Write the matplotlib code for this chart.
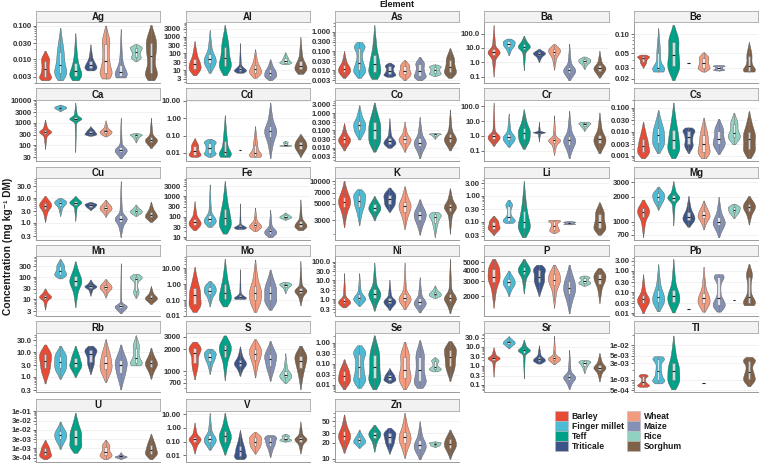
import math
import numpy as np
import matplotlib
matplotlib.use("Agg")
import matplotlib.pyplot as plt
from matplotlib.patches import Patch
from matplotlib.ticker import NullFormatter, LogLocator

# ---- data: per element, per cereal [min, q1, median, q3, max] (None = not measured)
cereals = ["Barley", "Finger millet", "Teff", "Triticale",
           "Wheat", "Maize", "Rice", "Sorghum"]
colors = ["#E64B35", "#4DBBD5", "#00A087", "#3C5488",
          "#F39B7F", "#8491B4", "#91D1C2", "#7E6148"]

Ag = [[0.0024, 0.003, 0.005, 0.009, 0.018], [0.0024, 0.004, 0.007, 0.016, 0.085],
      [0.0024, 0.0033, 0.0045, 0.008, 0.06], [0.0047, 0.0055, 0.0068, 0.009, 0.028],
      [0.0027, 0.004, 0.009, 0.028, 0.10], [0.0029, 0.0033, 0.0042, 0.007, 0.08],
      [0.0088, 0.012, 0.017, 0.022, 0.028], [0.0024, 0.004, 0.013, 0.03, 0.105]]
Al = [[5, 12, 22, 45, 550], [7, 25, 45, 90, 2500], [5, 18, 50, 250, 5000],
      [7, 9, 11, 16, 420], [3.5, 7, 11, 20, 180], [2.5, 4.5, 7, 11, 45],
      [23, 28, 34, 50, 115], [6, 11, 18, 35, 950]]
As = [[0.004, 0.008, 0.012, 0.018, 0.1], [0.004, 0.01, 0.025, 0.15, 0.3],
      [0.0035, 0.008, 0.02, 0.06, 2.3], [0.0045, 0.006, 0.009, 0.016, 0.025],
      [0.003, 0.006, 0.009, 0.016, 0.034], [0.003, 0.005, 0.009, 0.02, 0.05],
      [0.005, 0.007, 0.01, 0.015, 0.02], [0.004, 0.008, 0.015, 0.035, 0.14]]
Ba = [[0.1, 3, 5, 8, 400], [3, 12, 18, 28, 45], [0.27, 8, 12, 18, 70],
      [1, 3, 4, 5, 8.5], [0.3, 3, 5.5, 8, 18], [0.055, 0.18, 0.3, 0.5, 20],
      [0.33, 0.9, 1.2, 1.6, 2.5], [0.085, 0.25, 0.4, 0.6, 6.3]]
Be = [[0.03, 0.037, 0.042, 0.045, 0.048], [0.026, 0.028, 0.03, 0.05, 0.125],
      [0.019, 0.032, 0.047, 0.075, 0.14], [0.036],
      [0.026, 0.03, 0.035, 0.042, 0.052], [0.027, 0.028, 0.03, 0.032, 0.033],
      None, [0.026, 0.027, 0.032, 0.045, 0.075]]
Ca = [[70, 330, 400, 480, 1400], [3300, 4300, 4800, 5300, 6500],
      [50, 1300, 1550, 1800, 8000], [270, 320, 370, 450, 700],
      [250, 350, 420, 500, 1300], [27, 50, 65, 85, 1700],
      [135, 230, 280, 310, 350], [76, 140, 180, 230, 1700]]
Cd = [[0.006, 0.008, 0.013, 0.025, 0.07], [0.006, 0.01, 0.02, 0.04, 0.065],
      [0.006, 0.008, 0.012, 0.05, 1.5], [0.015],
      [0.006, 0.007, 0.01, 0.03, 0.35], [0.005, 0.08, 0.18, 0.35, 8],
      [0.025, 0.027, 0.028, 0.04, 0.05], [0.006, 0.018, 0.028, 0.045, 0.12]]
Co = [[0.007, 0.02, 0.03, 0.045, 0.26], [0.03, 0.1, 0.2, 0.35, 2.8],
      [0.006, 0.03, 0.1, 0.3, 4], [0.01, 0.017, 0.023, 0.035, 0.5],
      [0.006, 0.02, 0.03, 0.045, 0.32], [0.0025, 0.012, 0.02, 0.035, 0.6],
      [0.034, 0.05, 0.06, 0.065, 0.072], [0.007, 0.022, 0.035, 0.06, 1.6]]
Cr = [[0.21, 0.6, 0.9, 1.4, 180], [0.18, 0.5, 0.8, 1.3, 33],
      [0.13, 0.6, 1.6, 3.5, 63], [0.4, 1.6, 1.75, 1.9, 9],
      [0.05, 0.35, 0.5, 0.7, 25], [0.03, 0.25, 0.5, 1, 50],
      [2.2, 4.5, 6, 7.5, 9], [0.065, 0.3, 0.6, 1.2, 38]]
Cs = [[0.0008, 0.0015, 0.0026, 0.005, 0.026], [0.0013, 0.0035, 0.007, 0.014, 0.077],
      [0.0008, 0.002, 0.0045, 0.012, 0.16], [0.0013, 0.003, 0.006, 0.011, 0.015],
      [0.0008, 0.0015, 0.003, 0.007, 0.038], [0.0012, 0.003, 0.005, 0.011, 0.034],
      [0.003, 0.006, 0.009, 0.02, 0.06], [0.0008, 0.002, 0.005, 0.01, 0.07]]
Cu = [[1.1, 3.8, 5, 6.5, 12], [1.9, 5, 6.3, 7.5, 10], [1.2, 5.3, 6.5, 7.5, 12],
      [3.3, 4.5, 5.2, 5.8, 7], [1.8, 3.3, 4, 5, 8.5], [0.27, 1.1, 1.5, 2, 48],
      [1.9, 2.6, 3, 3.5, 5.5], [1.1, 1.7, 2.1, 2.8, 7.2]]
Fe = [[22, 40, 55, 80, 570], [32, 55, 75, 120, 3800], [15, 40, 90, 250, 5500],
      [25, 28, 32, 38, 450], [20, 30, 38, 50, 280], [10, 15, 20, 26, 220],
      [70, 90, 100, 115, 160], [22, 32, 42, 60, 700]]
K = [[2450, 4500, 5300, 6200, 10000], [2600, 4500, 5400, 6500, 7800],
     [3000, 4000, 4400, 4900, 6300], [3900, 5000, 5800, 6600, 8200],
     [2300, 3900, 4600, 5300, 8500], [1950, 3000, 3500, 4000, 5700],
     [1800, 2800, 3300, 3600, 3900], [2000, 4000, 4500, 5000, 8000]]
Li = [[0.032, 0.055, 0.07, 0.1, 0.17], [0.09, 0.11, 0.15, 0.4, 0.7],
      [0.026, 0.06, 0.1, 0.25, 3.6], None,
      [0.037, 0.05, 0.07, 0.11, 0.12], [0.08, 0.085, 0.093, 0.1, 0.107],
      None, [0.032, 0.06, 0.1, 0.2, 0.55]]
Mg = [[650, 1150, 1300, 1450, 1850], [1400, 1800, 2000, 2200, 2650],
      [900, 1800, 1950, 2100, 3100], [870, 1050, 1150, 1300, 2050],
      [810, 1100, 1200, 1350, 1800], [650, 900, 1000, 1150, 2000],
      [1100, 1300, 1400, 1500, 1650], [925, 1350, 1500, 1650, 2050]]
Mn = [[3.5, 11, 13, 16, 31], [87, 130, 180, 300, 650], [4.5, 40, 65, 110, 500],
      [14.5, 33, 38, 44, 78], [12, 28, 35, 45, 80], [2.4, 4, 5, 6, 420],
      [12, 25, 85, 100, 140], [6.2, 10, 12, 15, 40]]
Mo = [[0.018, 0.06, 0.2, 0.6, 12], [0.04, 0.25, 0.4, 0.7, 1.6],
      [0.04, 0.12, 0.3, 1, 40], [0.12, 0.13, 0.15, 0.22, 9],
      [0.018, 0.1, 0.3, 0.8, 36], [0.025, 0.1, 0.3, 0.8, 8.5],
      [0.27, 0.7, 0.9, 1.1, 1.4], [0.046, 0.28, 0.4, 0.6, 30]]
Ni = [[0.37, 0.6, 0.8, 1.1, 25], [0.45, 0.9, 1.2, 1.8, 25], [0.25, 1.2, 2, 3.5, 90],
      [0.27, 0.6, 0.8, 1.1, 11], [0.3, 0.8, 1.2, 2, 90], [0.2, 0.5, 0.7, 1.1, 15],
      [1.2, 1.6, 2, 2.5, 5.5], [0.18, 0.8, 1.2, 2, 140]]
P = [[1450, 2900, 3400, 4200, 5500], [2000, 2650, 2900, 3200, 4000],
     [2150, 3600, 4000, 4400, 5500], [2000, 2900, 3400, 4100, 4700],
     [1450, 2700, 3100, 3600, 4700], [1250, 2100, 2500, 3000, 4700],
     [2650, 2850, 3000, 3300, 3500], [1650, 2800, 3200, 3600, 4300]]
Pb = [[0.01, 0.03, 0.045, 0.07, 0.7], [0.0125, 0.035, 0.06, 0.12, 2.1],
      [0.011, 0.035, 0.065, 0.13, 3.7], [0.016],
      [0.012, 0.03, 0.05, 0.09, 1.6], [0.012, 0.025, 0.05, 0.5, 0.7],
      [0.042], [0.024, 0.03, 0.06, 0.5, 2.1]]
Rb = [[0.55, 2.2, 4.5, 8, 20], [0.85, 2.3, 4, 7, 18], [1, 2.5, 3.5, 6, 18],
      [1.3, 4, 8, 12, 18], [0.63, 2, 3.5, 7, 32], [0.32, 1.5, 3, 5, 20],
      [2.9, 3.5, 6, 15, 46], [0.85, 2.5, 3.5, 5, 15]]
S = [[780, 1300, 1800, 2100, 2550], [920, 1400, 1600, 1800, 2050],
     [760, 1600, 1950, 2300, 3100], [870, 1200, 1300, 1450, 2200],
     [830, 1450, 1750, 2050, 2750], [750, 1200, 1500, 1750, 2600],
     [700, 830, 900, 1000, 1780], [570, 1100, 1400, 1650, 2250]]
Se = [[0.006, 0.015, 0.025, 0.045, 0.16], [0.007, 0.02, 0.07, 0.3, 0.75],
      [0.006, 0.02, 0.07, 0.25, 2.2], [0.012, 0.017, 0.022, 0.03, 0.06],
      [0.006, 0.02, 0.05, 0.2, 1.1], [0.007, 0.015, 0.05, 0.2, 1.3],
      [0.043, 0.055, 0.07, 0.13, 0.2], [0.015, 0.08, 0.2, 0.45, 1.2]]
Sr = [[0.26, 2, 2.5, 3, 9.5], [8.2, 14, 17, 21, 36], [0.21, 5, 6.5, 8, 24],
      [1.3, 1.8, 2.2, 2.8, 12], [1.2, 2, 2.5, 3.2, 40], [0.056, 0.18, 0.25, 0.35, 7],
      [0.4, 1, 1.4, 1.7, 2], [0.145, 0.6, 0.8, 1.1, 4.8]]
Tl = [[0.00064, 0.0007, 0.00085, 0.0013, 0.0015], [0.0008, 0.001, 0.0018, 0.004, 0.0048],
      [0.00054, 0.001, 0.0018, 0.003, 0.019], None, [0.00083], None, None,
      [0.00066, 0.0011, 0.0017, 0.0035, 0.0046]]
U = [[0.00025, 0.0004, 0.0006, 0.001, 0.0028], [0.0009, 0.003, 0.005, 0.008, 0.027],
     [0.00055, 0.0015, 0.004, 0.009, 0.08], None,
     [0.00025, 0.0004, 0.0006, 0.0012, 0.0028], [0.00025, 0.00032, 0.00035, 0.00038, 0.0006],
     None, [0.00025, 0.0005, 0.0008, 0.0015, 0.006]]
V = [[0.013, 0.09, 0.15, 0.22, 2.5], [0.025, 0.09, 0.16, 0.3, 13],
     [0.011, 0.1, 0.25, 0.6, 13], [0.005, 0.008, 0.02, 0.05, 0.7],
     [0.013, 0.05, 0.1, 0.2, 0.5], [0.007, 0.05, 0.1, 0.2, 0.3],
     [0.1, 0.13, 0.16, 0.25, 0.38], [0.013, 0.1, 0.15, 0.22, 3]]
Zn = [[13, 22, 27, 33, 67], [16, 20, 22, 25, 35], [13.5, 24, 28, 32, 43],
      [12.5, 20, 25, 30, 38], [10.5, 20, 25, 32, 72], [9.8, 15, 18, 22, 50],
      [16.5, 18, 19, 20, 21], [10, 16, 19, 23, 35]]

elements = ["Ag", "Al", "As", "Ba", "Be", "Ca", "Cd", "Co", "Cr", "Cs",
            "Cu", "Fe", "K", "Li", "Mg", "Mn", "Mo", "Ni", "P", "Pb",
            "Rb", "S", "Se", "Sr", "Tl", "U", "V", "Zn"]
values = {"Ag": Ag, "Al": Al, "As": As, "Ba": Ba, "Be": Be, "Ca": Ca, "Cd": Cd,
          "Co": Co, "Cr": Cr, "Cs": Cs, "Cu": Cu, "Fe": Fe, "K": K, "Li": Li,
          "Mg": Mg, "Mn": Mn, "Mo": Mo, "Ni": Ni, "P": P, "Pb": Pb, "Rb": Rb,
          "S": S, "Se": Se, "Sr": Sr, "Tl": Tl, "U": U, "V": V, "Zn": Zn}

ticks = {
    "Ag": ["0.003", "0.010", "0.030", "0.100"],
    "Al": ["3", "10", "30", "100", "300", "1000", "3000"],
    "As": ["0.003", "0.010", "0.030", "0.100", "0.300", "1.000"],
    "Ba": ["0.1", "1.0", "10.0", "100.0"],
    "Be": ["0.02", "0.03", "0.05", "0.10"],
    "Ca": ["30", "100", "300", "1000", "3000", "10000"],
    "Cd": ["0.01", "0.10", "1.00", "10.00"],
    "Co": ["0.003", "0.010", "0.030", "0.100", "0.300", "1.000", "3.000"],
    "Cr": ["0.1", "1.0", "10.0", "100.0"],
    "Cs": ["0.001", "0.003", "0.010", "0.030", "0.100"],
    "Cu": ["0.3", "1.0", "3.0", "10.0", "30.0"],
    "Fe": ["10", "30", "100", "300", "1000", "3000"],
    "K": ["3000", "5000", "7000", "10000"],
    "Li": ["0.03", "0.10", "0.30", "1.00", "3.00"],
    "Mg": ["700", "1000", "2000", "3000"],
    "Mn": ["3", "10", "30", "100", "300"],
    "Mo": ["0.01", "0.10", "1.00", "10.00"],
    "Ni": ["0.3", "1.0", "3.0", "10.0", "30.0", "100.0"],
    "P": ["2000", "3000", "4000", "5000"],
    "Pb": ["0.01", "0.03", "0.10", "0.30", "1.00", "3.00"],
    "Rb": ["0.3", "1.0", "3.0", "10.0", "30.0"],
    "S": ["700", "1000", "2000", "3000"],
    "Se": ["0.01", "0.03", "0.10", "0.30", "1.00"],
    "Sr": ["0.1", "0.3", "1.0", "3.0", "10.0", "30.0"],
    "Tl": ["5e-04", "1e-03", "3e-03", "5e-03", "1e-02"],
    "U": ["3e-04", "1e-03", "3e-03", "1e-02", "3e-02", "1e-01"],
    "V": ["0.01", "0.10", "1.00", "10.00"],
    "Zn": ["10", "20", "30", "50"],
}

# ---- layout (pixels of the 760x472 canvas)
W, H = 760, 472
col_left = [36, 185.5, 335, 484.5, 634]
panel_w = 124
strip_top = [10.7, 88.3, 166.7, 244.7, 321.3, 399]
axis_bottom = [83, 161, 240, 316, 392, 461.5]
strip_h = 11.5

FONT = ["Liberation Sans", "DejaVu Sans"]
plt.rcParams["font.family"] = FONT


def quantile_cdf(y, lq):
    """cdf through the five quantiles, tails taper linearly to the extremes"""
    mn, q1, md, q3, mx = lq
    F = np.zeros_like(y)
    L0, L1, L2, L3 = q1 - mn, md - q1, q3 - md, mx - q3
    F = np.where(y >= mx, 1.0, F)
    if L3 > 0:
        m = (y >= q3) & (y < mx)
        F = np.where(m, 1 - 0.25 * ((mx - y) / L3) ** 2, F)
    m = (y >= md) & (y < q3)
    F = np.where(m, 0.5 + 0.25 * (y - md) / max(L2, 1e-9), F)
    m = (y >= q1) & (y < md)
    F = np.where(m, 0.25 + 0.25 * (y - q1) / max(L1, 1e-9), F)
    if L0 > 0:
        m = (y >= mn) & (y < q1)
        F = np.where(m, 0.25 * ((y - mn) / L0) ** 2, F)
    return F


def violin_profile(q):
    """smoothed density (log10 space) from the five quantiles"""
    lq = np.log10(q)
    lo, hi = lq[0], lq[-1]
    rng = hi - lo
    iqr = lq[3] - lq[1]
    s = max(float(np.clip(0.4 * iqr, 0.03 * rng, 0.09 * rng)), 1e-3)
    edges = np.linspace(lo - 4 * s, hi + 4 * s, 1601)
    mass = np.diff(quantile_cdf(edges, lq))
    mid = 0.5 * (edges[:-1] + edges[1:])
    step = edges[1] - edges[0]
    kx = np.arange(-int(4 * s / step) - 1, int(4 * s / step) + 2) * step
    kern = np.exp(-0.5 * (kx / s) ** 2)
    dens = np.convolve(mass, kern, mode="same")
    keep = (mid >= lo) & (mid <= hi)
    y = np.concatenate([[lo], mid[keep], [hi]])
    d = np.interp(y, mid, dens)
    return 10 ** y, d / d.max()


fig = plt.figure(figsize=(W / 100, H / 100), dpi=100)

for k, el in enumerate(elements):
    r, c = divmod(k, 5)
    x0 = col_left[c] / W
    sb = strip_top[r] + strip_h
    ax = fig.add_axes([x0, 1 - axis_bottom[r] / H, panel_w / W,
                       (axis_bottom[r] - sb) / H])
    sax = fig.add_axes([x0, 1 - sb / H, panel_w / W, strip_h / H])
    sax.set_facecolor("#f2f2f2")
    sax.set_xticks([])
    sax.set_yticks([])
    for sp in sax.spines.values():
        sp.set_color("#a6a6a6")
        sp.set_linewidth(0.6)
    sax.text(0.5, 0.45, el, ha="center", va="center", fontsize=7,
             fontweight="bold", color="#1a1a1a", transform=sax.transAxes)

    ax.set_yscale("log")
    allv = []
    for i, q in enumerate(values[el]):
        if q is None:
            continue
        pos = i + 1
        allv.extend(q)
        if len(q) == 5:
            yy, w = violin_profile(q)
            ax.fill_betweenx(yy, pos - 0.4 * w, pos + 0.4 * w,
                             facecolor=colors[i], edgecolor="#555555",
                             linewidth=0.3, zorder=2)
            mn, q1, med, q3, mx = q
            liq = math.log10(q3) - math.log10(q1)
            wlo = max(mn, 10 ** (math.log10(q1) - 1.5 * liq))
            whi = min(mx, 10 ** (math.log10(q3) + 1.5 * liq))
            st = dict(med=med, q1=q1, q3=q3, whislo=wlo, whishi=whi, fliers=[])
        else:
            v = q[0]
            st = dict(med=v, q1=v, q3=v, whislo=v, whishi=v, fliers=[])
        ax.bxp([st], positions=[pos], widths=0.16, showfliers=False,
               showcaps=False, patch_artist=True, manage_ticks=False,
               boxprops=dict(facecolor=(1, 1, 1, 0.75), edgecolor="#7a7a7a",
                             linewidth=0.4),
               whiskerprops=dict(color="#7a7a7a", linewidth=0.4),
               medianprops=dict(color="#222222", linewidth=0.8), zorder=3)

    lv = np.log10(allv)
    pad = 0.05 * (lv.max() - lv.min())
    ax.set_ylim(10 ** (lv.min() - pad), 10 ** (lv.max() + pad))
    ax.set_xlim(0.4, 8.6)
    ax.set_xticks([])

    labels = ticks[el]
    ax.set_yticks([float(t) for t in labels])
    ax.set_yticklabels(labels)
    ax.yaxis.set_minor_locator(LogLocator(base=10, subs=np.arange(2, 10)))
    ax.yaxis.set_minor_formatter(NullFormatter())
    ax.tick_params(axis="y", which="major", length=2.2, width=0.5, pad=1,
                   labelsize=5.6, colors="#333333")
    ax.tick_params(axis="y", which="minor", length=1.2, width=0.4,
                   color="#333333")
    for lab in ax.get_yticklabels():
        lab.set_fontweight("bold")
    ax.yaxis.grid(True, which="major", color="#ebebeb", linewidth=0.5)
    ax.set_axisbelow(True)
    for side in ("top", "right"):
        ax.spines[side].set_visible(False)
    for side in ("left", "bottom"):
        ax.spines[side].set_color("#9a9a9a")
        ax.spines[side].set_linewidth(0.7)

fig.text(8 / W, 1 - 246 / H, "Concentration (mg kg⁻¹ DM)", rotation=90,
         ha="center", va="center", fontsize=7.4, fontweight="bold",
         color="#1a1a1a", family=FONT)
fig.text(397 / W, 1 - 4.5 / H, "Element", ha="center", va="center",
         fontsize=6.5, fontweight="bold", color="#1a1a1a")

handles = [Patch(facecolor=col, edgecolor="#bdbdbd", linewidth=0.4)
           for col in colors]
leg = fig.legend(handles, cereals, ncol=2, loc="upper left",
                 bbox_to_anchor=(555 / W, 1 - 411 / H), frameon=False,
                 fontsize=6.2, handlelength=1.5, handleheight=1.4,
                 handletextpad=0.45, labelspacing=0.02, columnspacing=0.35,
                 borderpad=0, borderaxespad=0)
for t in leg.get_texts():
    t.set_fontweight("bold")
    t.set_color("#1a1a1a")

fig.savefig("out.png", dpi=100)
